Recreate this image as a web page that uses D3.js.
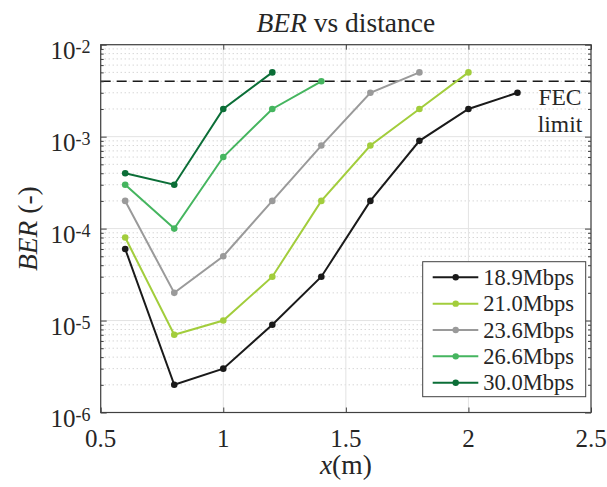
<!DOCTYPE html>
<html>
<head>
<meta charset="utf-8">
<script src="https://cdn.jsdelivr.net/npm/d3@7"></script>
<style>
  html, body { margin: 0; padding: 0; background: #fff; }
</style>
</head>
<body>
<svg id="chart" width="607" height="487"></svg>
<script>
// Measured bit error rate per link distance, one list per data rate
const seriesNames = ["18.9Mbps", "21.0Mbps", "23.6Mbps", "26.6Mbps", "30.0Mbps"];
const distances = [0.6, 0.8, 1.0, 1.2, 1.4, 1.6, 1.8, 2.0, 2.2];
const ber189 = [6e-5, 2e-6, 3e-6, 9e-6, 3e-5, 2e-4, 9e-4, 2e-3, 3e-3];
const ber210 = [8e-5, 7e-6, 1e-5, 3e-5, 2e-4, 8e-4, 2e-3, 5e-3];
const ber236 = [2e-4, 2e-5, 5e-5, 2e-4, 8e-4, 3e-3, 5e-3];
const ber266 = [3e-4, 1e-4, 6e-4, 2e-3, 4e-3];
const ber300 = [4e-4, 3e-4, 2e-3, 5e-3];
const seriesColors = ["#1a1a1a", "#a2cd3c", "#9a9a9a", "#45b55f", "#0b6e37"];
const fecLimit = 4e-3;

const xTicks = [0.5, 1, 1.5, 2, 2.5];
const xTickLabels = ["0.5", "1", "1.5", "2", "2.5"];
const yTickExps = [-2, -3, -4, -5, -6];

const seriesValues = [ber189, ber210, ber236, ber266, ber300];
const series = seriesNames.map((name, i) => ({
  name,
  color: seriesColors[i],
  points: seriesValues[i].map((v, j) => ({ x: distances[j], y: v }))
}));

const serif = "Liberation Serif";
const svg = d3.select("#chart");
const plot = { left: 100.7, right: 591, top: 44.7, bottom: 412.5 };

const x = d3.scaleLinear().domain([0.5, 2.5]).range([plot.left, plot.right]);
const y = d3.scaleLog().domain([1e-6, 1e-2]).range([plot.bottom, plot.top]);

// minor decade positions 2..9 x 10^k
const minorVals = [];
for (let e = -6; e < -2; e++) {
  for (let m = 2; m <= 9; m++) minorVals.push(m * Math.pow(10, e));
}
const majorVals = yTickExps.map(e => Math.pow(10, e));

// grid
const grid = svg.append("g");
grid.selectAll("line.minor").data(minorVals).join("line")
  .attr("x1", plot.left).attr("x2", plot.right)
  .attr("y1", d => y(d)).attr("y2", d => y(d))
  .attr("stroke", "#c4c4c4").attr("stroke-width", 1)
  .attr("stroke-dasharray", "1,3");
grid.selectAll("line.hmaj").data(majorVals).join("line")
  .attr("x1", plot.left).attr("x2", plot.right)
  .attr("y1", d => y(d)).attr("y2", d => y(d))
  .attr("stroke", "#e3e3e3").attr("stroke-width", 1);
grid.selectAll("line.vmaj").data(xTicks).join("line")
  .attr("x1", d => x(d)).attr("x2", d => x(d))
  .attr("y1", plot.top).attr("y2", plot.bottom)
  .attr("stroke", "#e3e3e3").attr("stroke-width", 1);

// FEC threshold
svg.append("line")
  .attr("x1", plot.left).attr("x2", plot.right)
  .attr("y1", y(fecLimit)).attr("y2", y(fecLimit))
  .attr("stroke", "#1a1a1a").attr("stroke-width", 1.5)
  .attr("stroke-dasharray", "10,6");

// data lines and markers
const line = d3.line().x(d => x(d.x)).y(d => y(d.y));
const gSeries = svg.append("g").selectAll("g").data(series).join("g");
gSeries.append("path")
  .attr("d", d => line(d.points))
  .attr("fill", "none")
  .attr("stroke", d => d.color)
  .attr("stroke-width", 2);
gSeries.selectAll("circle").data(d => d.points.map(p => ({ ...p, color: d.color }))).join("circle")
  .attr("cx", d => x(d.x)).attr("cy", d => y(d.y)).attr("r", 3.3)
  .attr("fill", d => d.color);

// axes box with inward ticks
const axisColor = "#404040";
const bottomAxis = d3.axisBottom(x).tickValues(xTicks).tickSize(-5).tickFormat("");
const topAxis = d3.axisTop(x).tickValues(xTicks).tickSize(-5).tickFormat("");
const leftMajor = d3.axisLeft(y).tickValues(majorVals).tickSize(-6).tickFormat("");
const leftMinor = d3.axisLeft(y).tickValues(minorVals).tickSize(-3).tickFormat("");
const rightMajor = d3.axisRight(y).tickValues(majorVals).tickSize(-6).tickFormat("");
const rightMinor = d3.axisRight(y).tickValues(minorVals).tickSize(-3).tickFormat("");

function styleAxis(g) {
  g.selectAll("path, line").attr("stroke", axisColor).attr("stroke-width", 1);
  g.select(".domain").remove();
}
svg.append("g").attr("transform", `translate(0,${plot.bottom})`).call(bottomAxis).call(styleAxis);
svg.append("g").attr("transform", `translate(0,${plot.top})`).call(topAxis).call(styleAxis);
svg.append("g").attr("transform", `translate(${plot.left},0)`).call(leftMajor).call(styleAxis);
svg.append("g").attr("transform", `translate(${plot.left},0)`).call(leftMinor).call(styleAxis);
svg.append("g").attr("transform", `translate(${plot.right},0)`).call(rightMajor).call(styleAxis);
svg.append("g").attr("transform", `translate(${plot.right},0)`).call(rightMinor).call(styleAxis);

svg.append("rect")
  .attr("x", plot.left).attr("y", plot.top)
  .attr("width", plot.right - plot.left).attr("height", plot.bottom - plot.top)
  .attr("fill", "none").attr("stroke", axisColor).attr("stroke-width", 1.2);

// tick labels
const textColor = "#262626";
svg.append("g").selectAll("text").data(xTicks).join("text")
  .attr("x", d => x(d)).attr("y", 446.5)
  .attr("text-anchor", "middle").attr("font-family", serif)
  .attr("font-size", 25).attr("fill", textColor)
  .text((d, i) => xTickLabels[i]);

const yLabels = svg.append("g").selectAll("text").data(yTickExps).join("text")
  .attr("x", 90.5).attr("y", d => y(Math.pow(10, d)) + 14.5)
  .attr("text-anchor", "end").attr("font-family", serif)
  .attr("font-size", 25).attr("fill", textColor);
yLabels.append("tspan").text("10");
yLabels.append("tspan").attr("dy", -6.5).attr("font-size", 18).text(d => String(d));

// title and axis labels
const title = svg.append("text")
  .attr("x", (plot.left + plot.right) / 2).attr("y", 31.7).attr("font-family", serif)
  .attr("text-anchor", "middle").attr("font-size", 27.5).attr("fill", textColor);
title.append("tspan").attr("font-style", "italic").text("BER");
title.append("tspan").text(" vs distance");

const xLabel = svg.append("text")
  .attr("x", (plot.left + plot.right) / 2).attr("y", 474).attr("font-family", serif)
  .attr("text-anchor", "middle").attr("font-size", 27.5).attr("fill", textColor);
xLabel.append("tspan").attr("font-style", "italic").text("x");
xLabel.append("tspan").text("(m)");

const yLabel = svg.append("text")
  .attr("transform", `translate(37,${(plot.top + plot.bottom) / 2}) rotate(-90)`)
  .attr("font-family", serif)
  .attr("text-anchor", "middle").attr("font-size", 27.5).attr("fill", textColor);
yLabel.append("tspan").attr("font-style", "italic").text("BER");
yLabel.append("tspan").text(" (-)");

// FEC annotation, two lines
svg.append("text")
  .attr("x", 560).attr("y", 105).attr("font-family", serif)
  .attr("text-anchor", "middle").attr("font-size", 23.5).attr("fill", textColor)
  .text("FEC");
svg.append("text")
  .attr("x", 560).attr("y", 131.5).attr("font-family", serif)
  .attr("text-anchor", "middle").attr("font-size", 23.5).attr("fill", textColor)
  .text("limit");

// legend
const legend = { left: 422.7, top: 261.7, right: 585.7, bottom: 396.7, firstRow: 277.3, rowStep: 26.35 };
svg.append("rect")
  .attr("x", legend.left).attr("y", legend.top)
  .attr("width", legend.right - legend.left).attr("height", legend.bottom - legend.top)
  .attr("fill", "#fff").attr("stroke", axisColor).attr("stroke-width", 1);
const rows = svg.append("g").selectAll("g").data(series).join("g")
  .attr("transform", (d, i) => `translate(0,${legend.firstRow + i * legend.rowStep})`);
rows.append("line")
  .attr("x1", 432.7).attr("x2", 478.3).attr("y1", 0).attr("y2", 0)
  .attr("stroke", d => d.color).attr("stroke-width", 2);
rows.append("circle")
  .attr("cx", 455.7).attr("cy", 0).attr("r", 3.2)
  .attr("fill", d => d.color);
rows.append("text")
  .attr("x", 483.3).attr("y", 7.6).attr("font-family", serif)
  .attr("font-size", 22.5).attr("fill", textColor)
  .text(d => d.name);
</script>
</body>
</html>
